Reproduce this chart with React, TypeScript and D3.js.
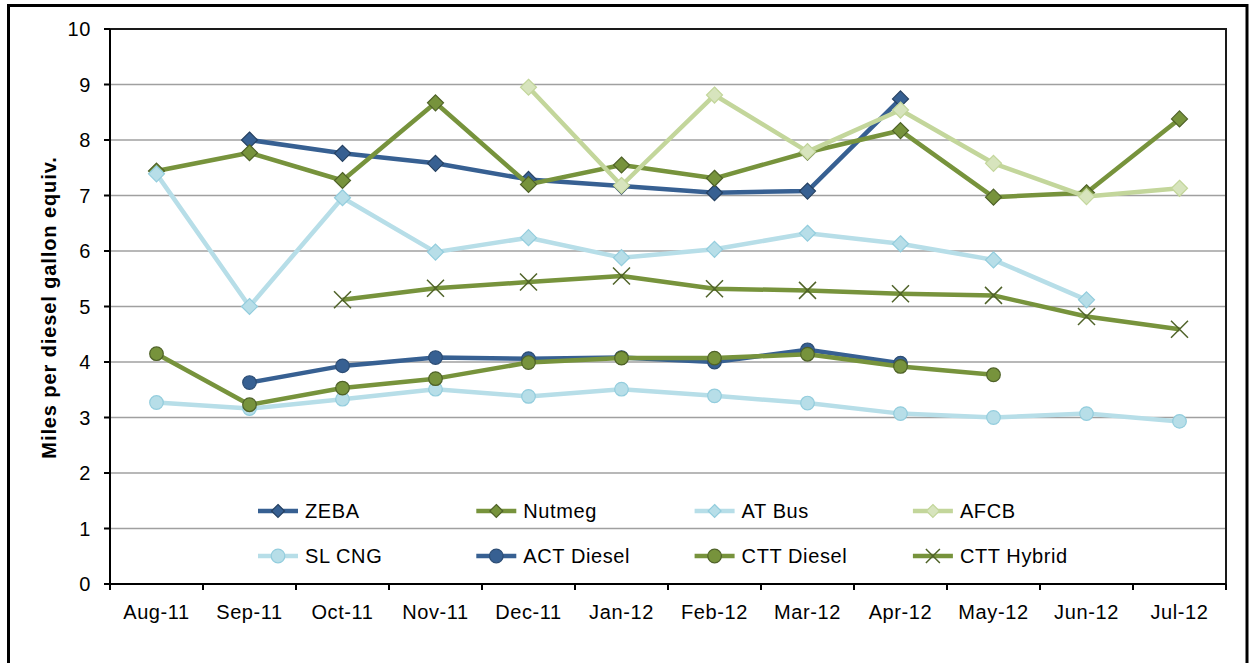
import React from 'react'
import * as d3 from 'd3'

const months = ['Aug-11', 'Sep-11', 'Oct-11', 'Nov-11', 'Dec-11', 'Jan-12', 'Feb-12', 'Mar-12', 'Apr-12', 'May-12', 'Jun-12', 'Jul-12']
const yTicks = [0, 1, 2, 3, 4, 5, 6, 7, 8, 9, 10]

const zeba = [null, 8.0, 7.76, 7.58, 7.29, 7.17, 7.05, 7.08, 8.74, null, null, null]
const nutmeg = [7.44, 7.77, 7.27, 8.67, 7.2, 7.55, 7.31, 7.78, 8.17, 6.97, 7.05, 8.38]
const atBus = [7.39, 5.0, 6.96, 5.98, 6.24, 5.88, 6.03, 6.32, 6.13, 5.84, 5.12, null]
const afcb = [null, null, null, null, 8.95, 7.18, 8.81, 7.79, 8.54, 7.58, 6.98, 7.13]
const slCng = [3.27, 3.16, 3.33, 3.51, 3.38, 3.51, 3.39, 3.26, 3.07, 3.0, 3.07, 2.93]
const actDiesel = [null, 3.63, 3.93, 4.08, 4.06, 4.08, 4.0, 4.22, 3.98, null, null, null]
const cttDiesel = [4.15, 3.23, 3.53, 3.7, 3.99, 4.07, 4.07, 4.14, 3.92, 3.77, null, null]
const cttHybrid = [null, null, 5.12, 5.33, 5.44, 5.55, 5.32, 5.29, 5.23, 5.2, 4.82, 4.59]

type Series = { name: string; values: (number | null)[]; line: string; fill: string; stroke: string; marker: 'diamond' | 'circle' | 'x' }

const series: Series[] = [
  { name: 'ZEBA', values: zeba, line: '#376092', fill: '#376092', stroke: '#254061', marker: 'diamond' },
  { name: 'Nutmeg', values: nutmeg, line: '#77933C', fill: '#77933C', stroke: '#4F6228', marker: 'diamond' },
  { name: 'AT Bus', values: atBus, line: '#B7DEE8', fill: '#B7DEE8', stroke: '#93CDDD', marker: 'diamond' },
  { name: 'AFCB', values: afcb, line: '#C3D69B', fill: '#D7E4BD', stroke: '#C3D69B', marker: 'diamond' },
  { name: 'SL CNG', values: slCng, line: '#B7DEE8', fill: '#B7DEE8', stroke: '#93CDDD', marker: 'circle' },
  { name: 'ACT Diesel', values: actDiesel, line: '#376092', fill: '#376092', stroke: '#2C4D75', marker: 'circle' },
  { name: 'CTT Diesel', values: cttDiesel, line: '#77933C', fill: '#77933C', stroke: '#4F6228', marker: 'circle' },
  { name: 'CTT Hybrid', values: cttHybrid, line: '#77933C', fill: 'none', stroke: '#4F6228', marker: 'x' },
]

const W = 1249
const H = 663
const left = 110
const right = 1226
const top = 29
const bottom = 584
const font = '"Liberation Sans", Arial, sans-serif'
const fs = 20
const ls = 0.6

function Marker({ kind, x, y, s, fill, stroke }: { kind: string; x: number; y: number; s: number; fill: string; stroke: string }) {
  if (kind === 'diamond') {
    return <path d={`M${x},${y - s}L${x + s},${y}L${x},${y + s}L${x - s},${y}Z`} fill={fill} stroke={stroke} strokeWidth={1.2} />
  }
  if (kind === 'circle') {
    return <circle cx={x} cy={y} r={s} fill={fill} stroke={stroke} strokeWidth={1.2} />
  }
  return <path d={`M${x - s},${y - s}L${x + s},${y + s}M${x - s},${y + s}L${x + s},${y - s}`} stroke={stroke} strokeWidth={1.5} fill="none" />
}

export default function App() {
  const x = d3.scaleBand<string>().domain(months).range([left, right])
  const y = d3.scaleLinear().domain([0, 10]).range([bottom, top])
  const cx = (m: string) => (x(m) || 0) + x.bandwidth() / 2

  const line = d3.line<number | null>()
    .defined(d => d != null)
    .x((_, i) => cx(months[i]))
    .y(d => y(d as number))

  const markerSize = (k: string) => (k === 'diamond' ? 8 : k === 'circle' ? 6.8 : 8.5)

  return (
    <svg width={W} height={H} style={{ position: 'absolute', left: 0, top: 0, background: '#fff' }} fontFamily={font}>
      <rect x={8.5} y={5.5} width={1238.5} height={700} fill="#fff" stroke="#000" strokeWidth={3} />

      {/* gridlines */}
      {yTicks.slice(1, -1).map(t => (
        <line key={t} x1={left} x2={right} y1={y(t)} y2={y(t)} stroke="#a0a0a0" strokeWidth={1.6} />
      ))}

      {/* plot border */}
      <path d={`M${left},${top}H${right}V${bottom}`} fill="none" stroke="#1a1a1a" strokeWidth={2} />

      {/* y axis */}
      <line x1={left} x2={left} y1={top} y2={bottom} stroke="#000" strokeWidth={2} />
      {yTicks.map(t => (
        <g key={t}>
          <line x1={left - 6} x2={left} y1={y(t)} y2={y(t)} stroke="#000" strokeWidth={2} />
          <text x={91} y={y(t)} dy="0.35em" textAnchor="end" fontSize={fs} letterSpacing={ls} fill="#000">{t}</text>
        </g>
      ))}
      <text transform={`translate(56,${(top + bottom) / 2 + 1}) rotate(-90)`} textAnchor="middle" fontSize={fs} letterSpacing={0.9} fontWeight="bold" fill="#000">
        Miles per diesel gallon equiv.
      </text>

      {/* x axis */}
      <line x1={left} x2={right} y1={bottom} y2={bottom} stroke="#000" strokeWidth={2} />
      {months.map(m => (
        <line key={'t' + m} x1={(x(m) || 0)} x2={(x(m) || 0)} y1={bottom} y2={bottom + 6} stroke="#000" strokeWidth={2} />
      ))}
      <line x1={right} x2={right} y1={bottom} y2={bottom + 6} stroke="#000" strokeWidth={2} />
      {months.map(m => (
        <text key={m} x={cx(m)} y={612} dy="0.35em" textAnchor="middle" fontSize={fs} letterSpacing={ls} fill="#000">{m}</text>
      ))}

      {/* series */}
      {series.map(s => (
        <g key={s.name}>
          <path d={line(s.values) || ''} fill="none" stroke={s.line} strokeWidth={4.5} strokeLinejoin="round" />
          {s.values.map((v, i) => v == null ? null : (
            <Marker key={i} kind={s.marker} x={cx(months[i])} y={y(v)} s={markerSize(s.marker)} fill={s.fill} stroke={s.stroke} />
          ))}
        </g>
      ))}

      {/* legend */}
      {series.map((s, i) => {
        const lx = 258 + (i % 4) * 218.3
        const ly = i < 4 ? 511 : 556
        return (
          <g key={'lg' + s.name}>
            <line x1={lx} x2={lx + 40} y1={ly} y2={ly} stroke={s.line} strokeWidth={4.5} />
            <Marker kind={s.marker} x={lx + 20} y={ly} s={s.marker === 'diamond' ? 6.5 : s.marker === 'circle' ? 6.8 : 7} fill={s.fill} stroke={s.stroke} />
            <text x={lx + 47} y={ly} dy="0.36em" fontSize={fs} letterSpacing={ls} fill="#000">{s.name}</text>
          </g>
        )
      })}
    </svg>
  )
}
